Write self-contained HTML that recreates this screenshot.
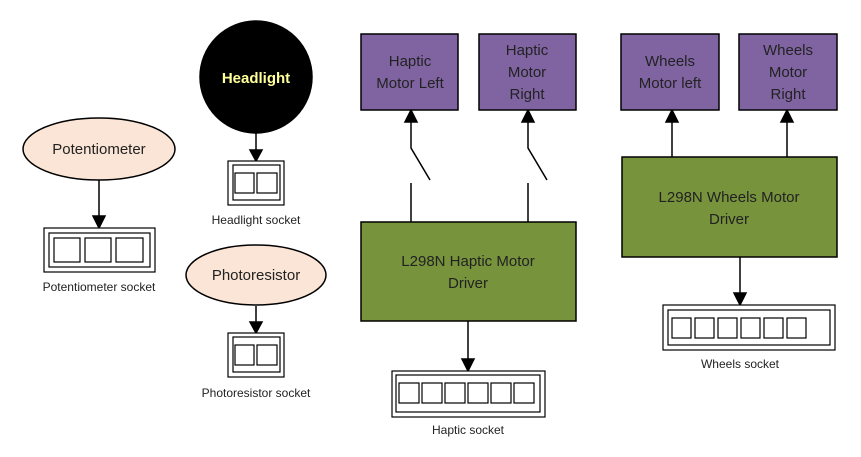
<!DOCTYPE html>
<html><head><style>body{margin:0;background:#fff}svg{display:block}</style></head><body>
<svg width="861" height="457" xmlns="http://www.w3.org/2000/svg" font-family="Liberation Sans, sans-serif">
<defs><marker id="a" markerWidth="10" markerHeight="10" refX="5" refY="9" orient="auto-start-reverse" markerUnits="userSpaceOnUse"><path d="M0,0 L10,0 L5,10Z" fill="#000" transform="rotate(0)"/></marker></defs>
<g stroke="#000" stroke-width="1.5" fill="none">
<!-- lines -->
<line x1="99" y1="180" x2="99" y2="218"/><path d="M93,216 L105,216 L99,228Z" fill="#000"/>
<line x1="256" y1="133" x2="256" y2="152"/><path d="M250,150 L262,150 L256,161Z" fill="#000"/>
<line x1="256" y1="306" x2="256" y2="324"/><path d="M250,322 L262,322 L256,333Z" fill="#000"/>
<line x1="468" y1="321" x2="468" y2="361"/><path d="M462,359 L474,359 L468,371Z" fill="#000"/>
<line x1="740" y1="257" x2="740" y2="295"/><path d="M734,293 L746,293 L740,305Z" fill="#000"/>
<line x1="672" y1="157" x2="672" y2="120"/><path d="M666,122 L678,122 L672,110Z" fill="#000"/>
<line x1="787" y1="157" x2="787" y2="120"/><path d="M781,122 L793,122 L787,110Z" fill="#000"/>
<path d="M411,222 L411,183 M430,180 L411,148 L411,120"/><path d="M405,122 L417,122 L411,110Z" fill="#000"/>
<path d="M528,222 L528,183 M547,180 L528,148 L528,120"/><path d="M522,122 L534,122 L528,110Z" fill="#000"/>
</g>
<g stroke="#000" stroke-width="1.5">
<ellipse cx="99" cy="149" rx="76" ry="31" fill="#fbe5d6"/>
<ellipse cx="256" cy="275" rx="70" ry="30" fill="#fbe5d6"/>
<circle cx="256" cy="77" r="56" fill="#000"/>
<rect x="361" y="34" width="97" height="76" fill="#8064a2"/>
<rect x="479" y="34" width="97" height="76" fill="#8064a2"/>
<rect x="621" y="34" width="98" height="76" fill="#8064a2"/>
<rect x="739" y="34" width="98" height="76" fill="#8064a2"/>
<rect x="361" y="222" width="215" height="99" fill="#77933c"/>
<rect x="622" y="157" width="215" height="100" fill="#77933c"/>
</g>
<g stroke="#000" stroke-width="1.2" fill="#fff">
<rect x="44" y="228" width="111" height="44"/><rect x="49" y="233" width="101" height="34"/>
<rect x="54" y="238" width="26" height="24"/><rect x="85" y="238" width="26" height="24"/><rect x="116" y="238" width="27" height="24"/>
<rect x="228" y="161" width="56" height="44"/><rect x="233" y="165" width="47" height="35"/>
<rect x="235" y="173" width="19" height="20"/><rect x="257" y="173" width="20" height="20"/>
<rect x="228" y="333" width="56" height="44"/><rect x="233" y="337" width="47" height="35"/>
<rect x="235" y="345" width="19" height="20"/><rect x="257" y="345" width="20" height="20"/>
<rect x="392" y="371" width="153" height="46"/><rect x="396" y="375" width="144" height="37"/>
<rect x="399" y="383" width="20" height="20"/><rect x="422" y="383" width="20" height="20"/><rect x="445" y="383" width="20" height="20"/><rect x="468" y="383" width="20" height="20"/><rect x="491" y="383" width="20" height="20"/><rect x="514" y="383" width="20" height="20"/>
<rect x="663" y="305" width="172" height="45"/><rect x="668" y="310" width="162" height="35"/>
<rect x="672" y="318" width="19" height="20"/><rect x="695" y="318" width="19" height="20"/><rect x="718" y="318" width="19" height="20"/><rect x="741" y="318" width="19" height="20"/><rect x="764" y="318" width="19" height="20"/><rect x="787" y="318" width="19" height="20"/>
</g>
<g font-size="15" fill="#222" text-anchor="middle">
<text x="99" y="154">Potentiometer</text>
<text x="256" y="280">Photoresistor</text>
<text x="256" y="83" fill="#ffff99" font-weight="bold">Headlight</text>
<text x="410" y="66">Haptic</text><text x="410" y="88">Motor Left</text>
<text x="527" y="55">Haptic</text><text x="527" y="77">Motor</text><text x="527" y="99">Right</text>
<text x="670" y="66">Wheels</text><text x="670" y="88">Motor left</text>
<text x="788" y="55">Wheels</text><text x="788" y="77">Motor</text><text x="788" y="99">Right</text>
<text x="468" y="266">L298N Haptic Motor</text><text x="468" y="288">Driver</text>
<text x="729" y="202">L298N Wheels Motor</text><text x="729" y="224">Driver</text>
</g>
<g font-size="12" fill="#222" text-anchor="middle">
<text x="99" y="291">Potentiometer socket</text>
<text x="256" y="224">Headlight socket</text>
<text x="256" y="397">Photoresistor socket</text>
<text x="468" y="434">Haptic socket</text>
<text x="740" y="368">Wheels socket</text>
</g>
</svg>
</body></html>
